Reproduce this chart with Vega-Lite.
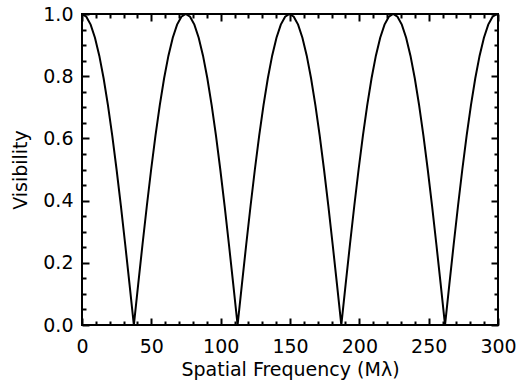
{
  "$schema": "https://vega.github.io/schema/vega-lite/v6.json",
  "width": 416,
  "height": 311,
  "autosize": "none",
  "padding": {"left": 82, "top": 14, "right": 21, "bottom": 58},
  "background": "white",
  "config": {
    "view": {"stroke": "black", "strokeWidth": 2},
    "font": "DejaVu Sans",
    "axis": {"grid": false, "domain": false, "tickColor": "black", "tickWidth": 2, "labelColor": "black", "titleColor": "black", "labelFont": "DejaVu Sans", "titleFont": "DejaVu Sans", "labelFontSize": 19, "titleFontSize": 19, "titleFontWeight": "normal"}
  },
  "data": {"values": [
    {"f": 0, "v": 1}, {"f": 3.117, "v": 0.99144}, {"f": 6.233, "v": 0.96593}, {"f": 9.35, "v": 0.92388}, {"f": 12.467, "v": 0.86603}, {"f": 15.583, "v": 0.79335}, {"f": 18.7, "v": 0.70711}, {"f": 21.817, "v": 0.60876}, {"f": 24.933, "v": 0.5}, {"f": 28.05, "v": 0.38268}, {"f": 31.167, "v": 0.25882}, {"f": 34.283, "v": 0.13053}, {"f": 37.4, "v": 0},
    {"f": 40.517, "v": 0.13053}, {"f": 43.633, "v": 0.25882}, {"f": 46.75, "v": 0.38268}, {"f": 49.867, "v": 0.5}, {"f": 52.983, "v": 0.60876}, {"f": 56.1, "v": 0.70711}, {"f": 59.217, "v": 0.79335}, {"f": 62.333, "v": 0.86603}, {"f": 65.45, "v": 0.92388}, {"f": 68.567, "v": 0.96593}, {"f": 71.683, "v": 0.99144}, {"f": 74.8, "v": 1},
    {"f": 77.917, "v": 0.99144}, {"f": 81.033, "v": 0.96593}, {"f": 84.15, "v": 0.92388}, {"f": 87.267, "v": 0.86603}, {"f": 90.383, "v": 0.79335}, {"f": 93.5, "v": 0.70711}, {"f": 96.617, "v": 0.60876}, {"f": 99.733, "v": 0.5}, {"f": 102.85, "v": 0.38268}, {"f": 105.967, "v": 0.25882}, {"f": 109.083, "v": 0.13053}, {"f": 112.2, "v": 0},
    {"f": 115.317, "v": 0.13053}, {"f": 118.433, "v": 0.25882}, {"f": 121.55, "v": 0.38268}, {"f": 124.667, "v": 0.5}, {"f": 127.783, "v": 0.60876}, {"f": 130.9, "v": 0.70711}, {"f": 134.017, "v": 0.79335}, {"f": 137.133, "v": 0.86603}, {"f": 140.25, "v": 0.92388}, {"f": 143.367, "v": 0.96593}, {"f": 146.483, "v": 0.99144}, {"f": 149.6, "v": 1},
    {"f": 152.717, "v": 0.99144}, {"f": 155.833, "v": 0.96593}, {"f": 158.95, "v": 0.92388}, {"f": 162.067, "v": 0.86603}, {"f": 165.183, "v": 0.79335}, {"f": 168.3, "v": 0.70711}, {"f": 171.417, "v": 0.60876}, {"f": 174.533, "v": 0.5}, {"f": 177.65, "v": 0.38268}, {"f": 180.767, "v": 0.25882}, {"f": 183.883, "v": 0.13053}, {"f": 187.0, "v": 0},
    {"f": 190.117, "v": 0.13053}, {"f": 193.233, "v": 0.25882}, {"f": 196.35, "v": 0.38268}, {"f": 199.467, "v": 0.5}, {"f": 202.583, "v": 0.60876}, {"f": 205.7, "v": 0.70711}, {"f": 208.817, "v": 0.79335}, {"f": 211.933, "v": 0.86603}, {"f": 215.05, "v": 0.92388}, {"f": 218.167, "v": 0.96593}, {"f": 221.283, "v": 0.99144}, {"f": 224.4, "v": 1},
    {"f": 227.517, "v": 0.99144}, {"f": 230.633, "v": 0.96593}, {"f": 233.75, "v": 0.92388}, {"f": 236.867, "v": 0.86603}, {"f": 239.983, "v": 0.79335}, {"f": 243.1, "v": 0.70711}, {"f": 246.217, "v": 0.60876}, {"f": 249.333, "v": 0.5}, {"f": 252.45, "v": 0.38268}, {"f": 255.567, "v": 0.25882}, {"f": 258.683, "v": 0.13053}, {"f": 261.8, "v": 0},
    {"f": 264.917, "v": 0.13053}, {"f": 268.033, "v": 0.25882}, {"f": 271.15, "v": 0.38268}, {"f": 274.267, "v": 0.5}, {"f": 277.383, "v": 0.60876}, {"f": 280.5, "v": 0.70711}, {"f": 283.617, "v": 0.79335}, {"f": 286.733, "v": 0.86603}, {"f": 289.85, "v": 0.92388}, {"f": 292.967, "v": 0.96593}, {"f": 296.083, "v": 0.99144}, {"f": 299.2, "v": 1}, {"f": 300, "v": 0.99945}
  ]},
  "resolve": {"axis": {"x": "independent", "y": "independent"}},
  "layer": [
    {
      "mark": {"type": "line", "color": "black", "strokeWidth": 2, "clip": true},
      "encoding": {
        "x": {"field": "f", "type": "quantitative", "scale": {"domain": [0, 300], "nice": false, "zero": false},
          "axis": {"orient": "bottom", "title": "Spatial Frequency (Mλ)", "values": [0, 50, 100, 150, 200, 250, 300], "tickSize": -7, "labelPadding": 19, "titlePadding": 4, "labelFlush": false, "labelOverlap": false, "format": "d"}},
        "y": {"field": "v", "type": "quantitative", "scale": {"domain": [0, 1], "nice": false, "zero": false},
          "axis": {"orient": "left", "title": "Visibility", "values": [0, 0.2, 0.4, 0.6, 0.8, 1.0], "tickSize": -7, "labelPadding": 16, "titlePadding": 12, "labelFlush": false, "labelOverlap": false, "format": ".1f"}}
      }
    },
    {
      "mark": {"type": "line", "opacity": 0},
      "encoding": {
        "x": {"field": "f", "type": "quantitative", "axis": {"orient": "top", "title": null, "labels": false, "values": [0, 50, 100, 150, 200, 250, 300], "tickSize": -7}},
        "y": {"field": "v", "type": "quantitative", "axis": {"orient": "right", "title": null, "labels": false, "values": [0, 0.2, 0.4, 0.6, 0.8, 1.0], "tickSize": -7}}
      }
    },
    {
      "mark": {"type": "line", "opacity": 0},
      "encoding": {
        "x": {"field": "f", "type": "quantitative", "axis": {"orient": "bottom", "title": null, "labels": false, "values": [10, 20, 30, 40, 60, 70, 80, 90, 110, 120, 130, 140, 160, 170, 180, 190, 210, 220, 230, 240, 260, 270, 280, 290], "tickSize": -4}},
        "y": {"field": "v", "type": "quantitative", "axis": {"orient": "left", "title": null, "labels": false, "values": [0.05, 0.1, 0.15, 0.25, 0.3, 0.35, 0.45, 0.5, 0.55, 0.65, 0.7, 0.75, 0.85, 0.9, 0.95], "tickSize": -4}}
      }
    },
    {
      "mark": {"type": "line", "opacity": 0},
      "encoding": {
        "x": {"field": "f", "type": "quantitative", "axis": {"orient": "top", "title": null, "labels": false, "values": [10, 20, 30, 40, 60, 70, 80, 90, 110, 120, 130, 140, 160, 170, 180, 190, 210, 220, 230, 240, 260, 270, 280, 290], "tickSize": -4}},
        "y": {"field": "v", "type": "quantitative", "axis": {"orient": "right", "title": null, "labels": false, "values": [0.05, 0.1, 0.15, 0.25, 0.3, 0.35, 0.45, 0.5, 0.55, 0.65, 0.7, 0.75, 0.85, 0.9, 0.95], "tickSize": -4}}
      }
    }
  ]
}
